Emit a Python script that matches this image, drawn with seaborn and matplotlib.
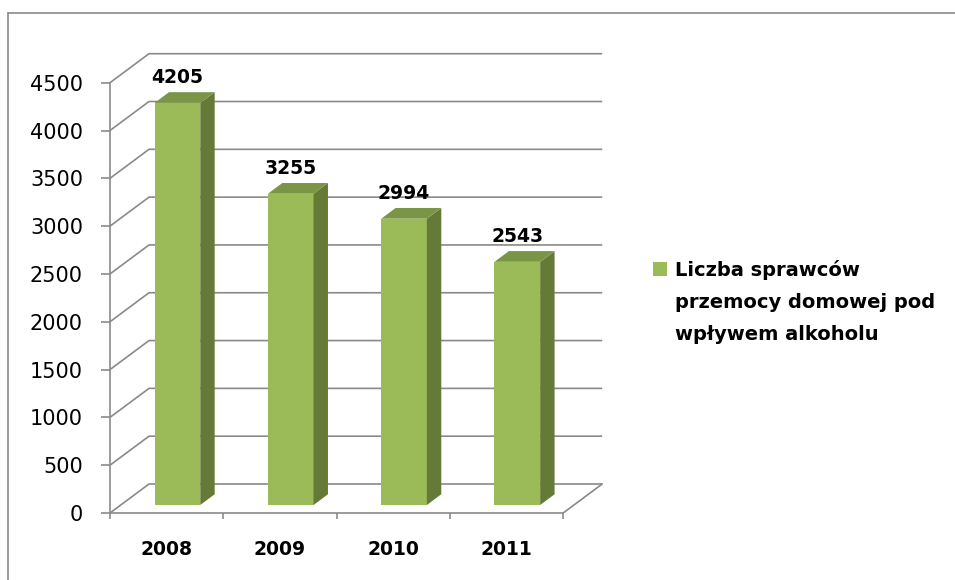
import matplotlib
matplotlib.use("Agg")
import matplotlib.pyplot as plt
import matplotlib.transforms as mtransforms
from matplotlib.lines import Line2D
from matplotlib.patches import Polygon, Rectangle
import pandas as pd
import seaborn as sns

# Data
years = ["2008", "2009", "2010", "2011"]
offenders = [4205, 3255, 2994, 2543]
y_ticks = [0, 500, 1000, 1500, 2000, 2500, 3000, 3500, 4000, 4500]
series_label = ["Liczba sprawców", "przemocy domowej pod", "wpływem alkoholu"]

FRONT = "#9bbb59"
SIDE = "#667a38"
TOP = "#7b9546"
GRID = "#8a8a8a"

sns.set_theme(style="white")
plt.rcParams["font.family"] = ["DejaVu Sans"]

df = pd.DataFrame({"year": years, "value": offenders})
n = len(years)

W, H = 955, 580
fig = plt.figure(figsize=(W / 100, H / 100), dpi=100)
fig.patch.set_facecolor("white")
ax = fig.add_axes([110 / W, (H - 513) / H, 500 / W, 463 / H])
ax.set_facecolor("white")

# pixel scale of the front plane
px_x = 113.3
px_y = 430.3 / 4500
# back wall depth in data units
DX, DY = 39 / px_x, 29 / px_y

# back wall grid + floor (walls of the 3d box)
for v in y_ticks:
    ax.plot([-0.5, -0.5 + DX, n - 0.5 + DX], [v, v + DY, v + DY],
            color=GRID, lw=1.2, zorder=1, solid_capstyle="butt")
ax.plot([n - 0.5, n - 0.5 + DX], [0, DY], color=GRID, lw=1.2, zorder=1)

# front faces of the bars
sns.barplot(data=df, x="year", y="value", color=FRONT, saturation=1,
            width=0.403, linewidth=0, ax=ax, zorder=3)

f_depth = 0.276   # where the bar front sits inside the box
b_depth = 0.37    # bar thickness as share of the box depth
shift = mtransforms.Affine2D().translate(f_depth * DX, f_depth * DY) + ax.transData
bx, by = b_depth * DX, b_depth * DY

for p in list(ax.patches):
    p.set_transform(shift)
    x0, w, h = p.get_x(), p.get_width(), p.get_height()
    side = Polygon([(x0 + w, 0), (x0 + w + bx, by), (x0 + w + bx, h + by), (x0 + w, h)],
                   closed=True, fc=SIDE, ec="none", transform=shift, zorder=3)
    top = Polygon([(x0, h), (x0 + w, h), (x0 + w + bx, h + by), (x0 + bx, h + by)],
                  closed=True, fc=TOP, ec="none", transform=shift, zorder=3)
    ax.add_patch(side)
    ax.add_patch(top)
    ax.annotate(f"{h:.0f}", xy=(x0 + w / 2, h), xycoords=shift,
                xytext=(0, 14.4), textcoords="offset points",
                ha="center", va="baseline", fontsize=13.5, fontweight="bold",
                color="black")

ax.set_xlim(-0.5, -0.5 + 500 / px_x)
ax.set_ylim(0, 463 / px_y)
ax.set_xlabel("")
ax.set_ylabel("")

ax.set_yticks(y_ticks, [str(v) for v in y_ticks])
ax.tick_params(axis="y", which="major", left=True, direction="out", length=6.5,
               width=1.2, color=GRID, pad=13, labelsize=15, labelcolor="black")
ax.set_xticks(range(n), years)
ax.set_xticks([i - 0.5 for i in range(n + 1)], minor=True)
ax.tick_params(axis="x", which="major", bottom=False, length=0, pad=19.5,
               labelsize=13.5, labelcolor="black")
ax.tick_params(axis="x", which="minor", bottom=True, direction="out", length=4.5,
               width=1.2, color=GRID)
for lbl in ax.get_xticklabels():
    lbl.set_fontweight("bold")

for s in ["top", "right"]:
    ax.spines[s].set_visible(False)
ax.spines["left"].set_bounds(0, 4500)
ax.spines["bottom"].set_bounds(-0.5, n - 0.5)
for s in ["left", "bottom"]:
    ax.spines[s].set_color(GRID)
    ax.spines[s].set_linewidth(1.2)

# legend
fig.add_artist(Rectangle((653 / W, 1 - 276 / H), 14 / W, 14 / H,
                         transform=fig.transFigure, fc=FRONT, ec="none"))
for i, line in enumerate(series_label):
    fig.text(675 / W, 1 - (275.7 + i * 32.3) / H, line, ha="left", va="baseline",
             fontsize=14, fontweight="bold", color="black")

# chart area border (only top and left visible)
fig.add_artist(Line2D([8 / W, 8 / W], [0, 1 - 13 / H], transform=fig.transFigure,
                      color=GRID, lw=1.2))
fig.add_artist(Line2D([8 / W, 1], [1 - 13 / H, 1 - 13 / H], transform=fig.transFigure,
                      color=GRID, lw=1.2))

fig.savefig("out.png", dpi=100)
